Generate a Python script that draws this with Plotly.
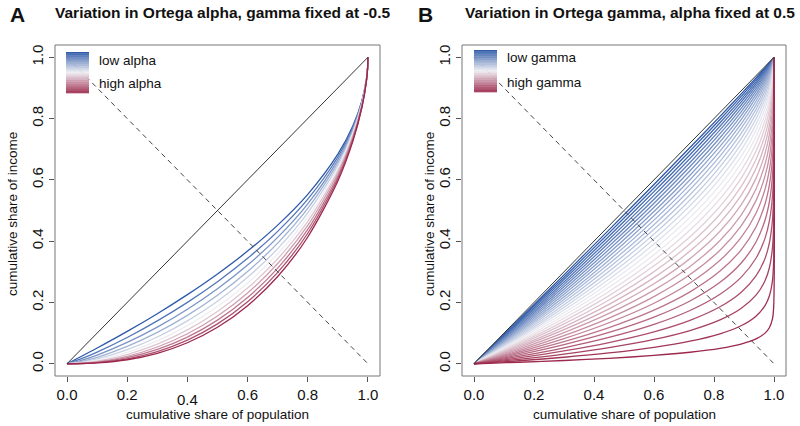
import plotly.graph_objects as go

# ---------------- data ----------------
tick_vals = [0.0, 0.2, 0.4, 0.6, 0.8, 1.0]
tick_labels = ["0.0", "0.2", "0.4", "0.6", "0.8", "1.0"]
diag_x = [0, 1]
diag_y = [0, 1]
anti_y = [1, 0]

# Panel A: population share grid and curves (low alpha -> high alpha)
p_a = [0, 0.05, 0.1, 0.2, 0.3, 0.4, 0.5, 0.6, 0.7, 0.8, 0.9, 0.95, 0.98, 0.995, 0.999, 1]
a_curve_01 = [0, 0.0253, 0.0513, 0.1056, 0.1633, 0.2254, 0.2929, 0.3675, 0.4523, 0.5528, 0.6838, 0.7764, 0.8586, 0.9293, 0.9684, 1]
a_curve_02 = [0, 0.0172, 0.0380, 0.0856, 0.1397, 0.2001, 0.2676, 0.3439, 0.4318, 0.5370, 0.6745, 0.7712, 0.8563, 0.9287, 0.9683, 1]
a_curve_03 = [0, 0.0116, 0.0282, 0.0695, 0.1194, 0.1776, 0.2446, 0.3219, 0.4122, 0.5216, 0.6653, 0.7661, 0.8541, 0.9281, 0.9681, 1]
a_curve_04 = [0, 0.0079, 0.0209, 0.0564, 0.1021, 0.1577, 0.2235, 0.3012, 0.3936, 0.5067, 0.6563, 0.7610, 0.8518, 0.9275, 0.9680, 1]
a_curve_05 = [0, 0.0053, 0.0155, 0.0457, 0.0873, 0.1400, 0.2042, 0.2819, 0.3757, 0.4922, 0.6473, 0.7559, 0.8496, 0.9269, 0.9679, 1]
a_curve_06 = [0, 0.0036, 0.0115, 0.0371, 0.0747, 0.1242, 0.1866, 0.2638, 0.3587, 0.4782, 0.6385, 0.7509, 0.8473, 0.9263, 0.9678, 1]
a_curve_07 = [0, 0.0024, 0.0085, 0.0301, 0.0639, 0.1103, 0.1705, 0.2468, 0.3425, 0.4645, 0.6298, 0.7459, 0.8451, 0.9257, 0.9676, 1]
a_curve_08 = [0, 0.0017, 0.0063, 0.0244, 0.0546, 0.0979, 0.1558, 0.2310, 0.3270, 0.4512, 0.6213, 0.7410, 0.8429, 0.9251, 0.9675, 1]
a_curve_09 = [0, 0.0011, 0.0047, 0.0198, 0.0467, 0.0869, 0.1424, 0.2162, 0.3121, 0.4383, 0.6128, 0.7360, 0.8407, 0.9245, 0.9674, 1]
a_curve_10 = [0, 0.0008, 0.0035, 0.0161, 0.0399, 0.0772, 0.1301, 0.2023, 0.2980, 0.4258, 0.6045, 0.7311, 0.8385, 0.9239, 0.9673, 1]
a_curve_11 = [0, 0.0005, 0.0026, 0.0130, 0.0341, 0.0685, 0.1189, 0.1893, 0.2845, 0.4136, 0.5963, 0.7263, 0.8363, 0.9233, 0.9671, 1]

# Panel B: population share grid and curves (low gamma -> high gamma)
p_b = [0, 0.05, 0.15, 0.3, 0.45, 0.6, 0.72, 0.82, 0.89, 0.94, 0.97, 0.985, 0.995, 0.999, 1]
b_curve_01 = [0, 0.0480, 0.1445, 0.2900, 0.4367, 0.5851, 0.7054, 0.8072, 0.8799, 0.9329, 0.9655, 0.9823, 0.9938, 0.9987, 1]
b_curve_02 = [0, 0.0466, 0.1403, 0.2823, 0.4265, 0.5735, 0.6939, 0.7970, 0.8716, 0.9269, 0.9617, 0.9799, 0.9928, 0.9984, 1]
b_curve_03 = [0, 0.0451, 0.1361, 0.2746, 0.4161, 0.5616, 0.6820, 0.7863, 0.8628, 0.9205, 0.9574, 0.9772, 0.9915, 0.9980, 1]
b_curve_04 = [0, 0.0436, 0.1319, 0.2668, 0.4056, 0.5494, 0.6696, 0.7751, 0.8534, 0.9135, 0.9527, 0.9741, 0.9900, 0.9976, 1]
b_curve_05 = [0, 0.0422, 0.1276, 0.2589, 0.3948, 0.5368, 0.6568, 0.7632, 0.8434, 0.9059, 0.9474, 0.9706, 0.9883, 0.9970, 1]
b_curve_06 = [0, 0.0407, 0.1234, 0.2509, 0.3838, 0.5239, 0.6434, 0.7507, 0.8327, 0.8976, 0.9416, 0.9667, 0.9863, 0.9963, 1]
b_curve_07 = [0, 0.0392, 0.1191, 0.2429, 0.3727, 0.5107, 0.6295, 0.7375, 0.8212, 0.8886, 0.9351, 0.9622, 0.9840, 0.9954, 1]
b_curve_08 = [0, 0.0377, 0.1148, 0.2347, 0.3613, 0.4970, 0.6151, 0.7237, 0.8090, 0.8788, 0.9279, 0.9571, 0.9812, 0.9944, 1]
b_curve_09 = [0, 0.0362, 0.1104, 0.2265, 0.3498, 0.4830, 0.6001, 0.7091, 0.7959, 0.8681, 0.9199, 0.9514, 0.9780, 0.9931, 1]
b_curve_10 = [0, 0.0348, 0.1061, 0.2182, 0.3380, 0.4686, 0.5845, 0.6937, 0.7820, 0.8565, 0.9110, 0.9449, 0.9742, 0.9915, 1]
b_curve_11 = [0, 0.0333, 0.1017, 0.2098, 0.3260, 0.4538, 0.5684, 0.6775, 0.7670, 0.8438, 0.9012, 0.9375, 0.9697, 0.9895, 1]
b_curve_12 = [0, 0.0318, 0.0973, 0.2013, 0.3138, 0.4386, 0.5516, 0.6605, 0.7511, 0.8301, 0.8902, 0.9291, 0.9645, 0.9871, 1]
b_curve_13 = [0, 0.0303, 0.0929, 0.1927, 0.3014, 0.4229, 0.5341, 0.6426, 0.7340, 0.8151, 0.8780, 0.9195, 0.9584, 0.9842, 1]
b_curve_14 = [0, 0.0288, 0.0885, 0.1840, 0.2888, 0.4068, 0.5160, 0.6237, 0.7158, 0.7988, 0.8645, 0.9087, 0.9512, 0.9805, 1]
b_curve_15 = [0, 0.0273, 0.0840, 0.1752, 0.2759, 0.3903, 0.4971, 0.6039, 0.6964, 0.7811, 0.8495, 0.8965, 0.9428, 0.9760, 1]
b_curve_16 = [0, 0.0258, 0.0796, 0.1663, 0.2628, 0.3733, 0.4775, 0.5830, 0.6756, 0.7619, 0.8328, 0.8826, 0.9329, 0.9705, 1]
b_curve_17 = [0, 0.0243, 0.0751, 0.1574, 0.2495, 0.3559, 0.4572, 0.5609, 0.6534, 0.7409, 0.8142, 0.8668, 0.9214, 0.9637, 1]
b_curve_18 = [0, 0.0228, 0.0705, 0.1483, 0.2359, 0.3379, 0.4361, 0.5378, 0.6296, 0.7181, 0.7936, 0.8489, 0.9078, 0.9553, 1]
b_curve_19 = [0, 0.0213, 0.0660, 0.1391, 0.2221, 0.3194, 0.4141, 0.5134, 0.6043, 0.6932, 0.7707, 0.8286, 0.8920, 0.9451, 1]
b_curve_20 = [0, 0.0198, 0.0614, 0.1299, 0.2080, 0.3005, 0.3913, 0.4877, 0.5772, 0.6662, 0.7453, 0.8056, 0.8734, 0.9324, 1]
b_curve_21 = [0, 0.0183, 0.0568, 0.1205, 0.1936, 0.2810, 0.3676, 0.4606, 0.5482, 0.6368, 0.7170, 0.7795, 0.8515, 0.9168, 1]
b_curve_22 = [0, 0.0168, 0.0522, 0.1110, 0.1790, 0.2609, 0.3430, 0.4321, 0.5173, 0.6048, 0.6856, 0.7499, 0.8260, 0.8977, 1]
b_curve_23 = [0, 0.0153, 0.0476, 0.1015, 0.1642, 0.2403, 0.3174, 0.4022, 0.4843, 0.5700, 0.6508, 0.7163, 0.7960, 0.8741, 1]
b_curve_24 = [0, 0.0138, 0.0429, 0.0918, 0.1491, 0.2192, 0.2909, 0.3706, 0.4490, 0.5322, 0.6120, 0.6782, 0.7608, 0.8451, 1]
b_curve_25 = [0, 0.0122, 0.0383, 0.0820, 0.1337, 0.1974, 0.2633, 0.3374, 0.4112, 0.4910, 0.5690, 0.6350, 0.7196, 0.8095, 1]
b_curve_26 = [0, 0.0107, 0.0336, 0.0722, 0.1180, 0.1750, 0.2346, 0.3024, 0.3709, 0.4461, 0.5212, 0.5860, 0.6713, 0.7656, 1]
b_curve_27 = [0, 0.0092, 0.0288, 0.0622, 0.1020, 0.1521, 0.2048, 0.2656, 0.3279, 0.3974, 0.4680, 0.5304, 0.6147, 0.7116, 1]
b_curve_28 = [0, 0.0077, 0.0241, 0.0521, 0.0858, 0.1284, 0.1738, 0.2268, 0.2819, 0.3443, 0.4090, 0.4674, 0.5483, 0.6452, 1]
b_curve_29 = [0, 0.0061, 0.0193, 0.0419, 0.0692, 0.1041, 0.1417, 0.1860, 0.2327, 0.2865, 0.3435, 0.3959, 0.4705, 0.5635, 1]
b_curve_30 = [0, 0.0046, 0.0145, 0.0316, 0.0524, 0.0792, 0.1083, 0.1430, 0.1802, 0.2237, 0.2706, 0.3148, 0.3793, 0.4630, 1]
b_curve_31 = [0, 0.0031, 0.0097, 0.0212, 0.0352, 0.0535, 0.0735, 0.0978, 0.1240, 0.1553, 0.1897, 0.2227, 0.2723, 0.3393, 1]
b_curve_32 = [0, 0.0015, 0.0049, 0.0106, 0.0178, 0.0271, 0.0375, 0.0501, 0.0641, 0.0809, 0.0999, 0.1184, 0.1470, 0.1872, 1]

panel_a_curves = [a_curve_01, a_curve_02, a_curve_03, a_curve_04, a_curve_05, a_curve_06,
                  a_curve_07, a_curve_08, a_curve_09, a_curve_10, a_curve_11]
panel_b_curves = [b_curve_01, b_curve_02, b_curve_03, b_curve_04, b_curve_05, b_curve_06, b_curve_07, b_curve_08,
                  b_curve_09, b_curve_10, b_curve_11, b_curve_12, b_curve_13, b_curve_14, b_curve_15, b_curve_16,
                  b_curve_17, b_curve_18, b_curve_19, b_curve_20, b_curve_21, b_curve_22, b_curve_23, b_curve_24,
                  b_curve_25, b_curve_26, b_curve_27, b_curve_28, b_curve_29, b_curve_30, b_curve_31, b_curve_32]

# ---------------- style ----------------
W, H = 800, 426
FONT = "Liberation Sans, Arial, Helvetica, sans-serif"
BLUE = (44, 88, 168)
MID = (238, 238, 242)
RED = (156, 40, 76)


def ramp(t):
    if t <= 0.5:
        s = t / 0.5
        a, b = BLUE, MID
    else:
        s = (t - 0.5) / 0.5
        a, b = MID, RED
    c = [round(a[i] + (b[i] - a[i]) * s) for i in range(3)]
    return "rgb(%d,%d,%d)" % tuple(c)


def px(x):
    return x / W


def py(y):
    return 1 - y / H


fig = go.Figure()


def add_panel(curves, xs, xa, ya):
    n = len(curves)
    for i, ys in enumerate(curves):
        fig.add_trace(go.Scatter(x=xs, y=ys, mode="lines", xaxis=xa, yaxis=ya,
                                 line=dict(color=ramp(i / (n - 1)), width=1.3,
                                           shape="spline", smoothing=0.8),
                                 hoverinfo="skip", showlegend=False))
    fig.add_trace(go.Scatter(x=diag_x, y=diag_y, mode="lines", xaxis=xa, yaxis=ya,
                             line=dict(color="#333333", width=1), hoverinfo="skip", showlegend=False))
    fig.add_trace(go.Scatter(x=diag_x, y=anti_y, mode="lines", xaxis=xa, yaxis=ya,
                             line=dict(color="#444444", width=1, dash="5px,4px"),
                             hoverinfo="skip", showlegend=False))


add_panel(panel_a_curves, p_a, "x", "y")
add_panel(panel_b_curves, p_b, "x2", "y2")

ticktext_a = ["0.0", "0.2", "", "0.6", "0.8", "1.0"]
axis_common = dict(range=[-0.04, 1.04], tickvals=tick_vals, ticks="outside", ticklen=5,
                   tickwidth=1, tickcolor="#555555", showgrid=False, zeroline=False,
                   showline=False, tickfont=dict(size=15, color="#111111", family=FONT))
ydom = [py(376), py(45)]
fig.update_layout(
    width=W, height=H, margin=dict(l=0, r=0, t=0, b=0),
    paper_bgcolor="white", plot_bgcolor="white", showlegend=False,
    xaxis=dict(domain=[px(55), px(380)], anchor="y", ticktext=ticktext_a, **axis_common),
    yaxis=dict(domain=ydom, anchor="x", ticktext=tick_labels, tickangle=-90, **axis_common),
    xaxis2=dict(domain=[px(462), px(786)], anchor="y2", ticktext=tick_labels, **axis_common),
    yaxis2=dict(domain=ydom, anchor="x2", ticktext=tick_labels, tickangle=-90, **axis_common),
)

shapes = []
for xr, yr in (("x domain", "y domain"), ("x2 domain", "y2 domain")):
    shapes.append(dict(type="rect", xref=xr, yref=yr, x0=0, x1=1, y0=0, y1=1,
                       line=dict(color="#777777", width=1), layer="above"))

# gradient legend bars
NSL = 60
for (x0, x1, y0, y1) in ((66, 89, 52, 93), (474, 497, 50, 92)):
    h = (y1 - y0) / NSL
    for i in range(NSL):
        c = ramp((i + 0.5) / NSL)
        shapes.append(dict(type="rect", xref="paper", yref="paper",
                           x0=px(x0), x1=px(x1), y0=py(y0 + (i + 1) * h + 0.3), y1=py(y0 + i * h),
                           line=dict(width=0), fillcolor=c, layer="above"))
fig.update_layout(shapes=shapes)

ann = []


def text(x, y, s, size=13.5, anchor="left", bold=False, angle=0, xref="paper"):
    ann.append(dict(x=x, y=y, xref=xref, yref="paper", text=("<b>%s</b>" % s) if bold else s,
                    showarrow=False, xanchor=anchor, yanchor="middle", textangle=angle,
                    font=dict(size=size, color="#111111", family=FONT)))


text(px(8), py(14), "A", size=21, bold=True)
text(px(53), py(13), "Variation in Ortega alpha, gamma fixed at -0.5", size=15.5, bold=True)
text(px(416), py(14), "B", size=21, bold=True)
text(px(463), py(13), "Variation in Ortega gamma, alpha fixed at 0.5", size=15.5, bold=True)

text(px(12), py(214), "cumulative share of income", anchor="center", angle=-90)
text(px(429), py(214), "cumulative share of income", anchor="center", angle=-90)
text(px(217.5), py(414.5), "cumulative share of population", anchor="center")
text(px(624), py(414.5), "cumulative share of population", anchor="center")

text(px(97), py(60), "low alpha")
text(px(97), py(83), "high alpha")
text(px(505), py(58), "low gamma")
text(px(505), py(82), "high gamma")

# the lowered 0.4 tick label of panel A
text(0.4, py(399), tick_labels[2], size=15, anchor="center", xref="x")

fig.update_layout(annotations=ann)
fig.write_html("out.html", config={"displayModeBar": False, "responsive": False})

# remove the default page margin so the figure sits at the window's top-left corner
with open("out.html", "r", encoding="utf-8") as f:
    html = f.read()
html = html.replace("<head>", "<head><style>html,body{margin:0;padding:0;overflow:hidden;}</style>", 1)
with open("out.html", "w", encoding="utf-8") as f:
    f.write(html)
